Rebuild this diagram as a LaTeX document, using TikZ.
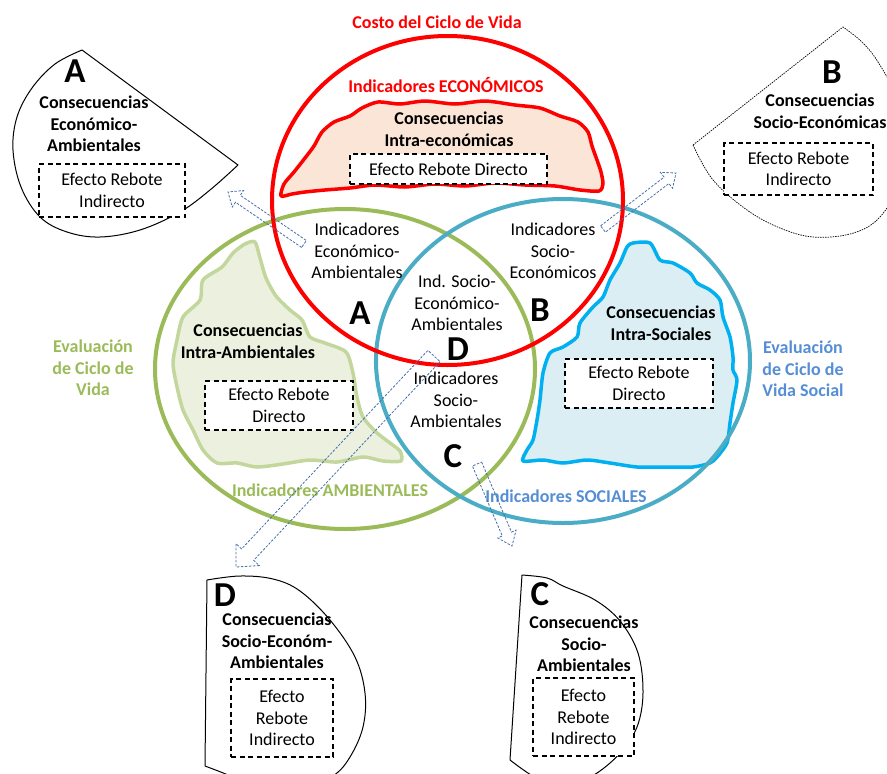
\documentclass[tikz,border=0pt]{standalone}
\usepackage{fontspec}
\setmainfont{Carlito}
\usetikzlibrary{calc}
\definecolor{vred}{RGB}{255,0,0}
\definecolor{vgreen}{RGB}{155,187,89}
\definecolor{vblue}{RGB}{75,172,198}
\definecolor{bredfill}{RGB}{251,229,214}
\definecolor{bgreenfill}{RGB}{235,241,222}
\definecolor{bgreenline}{RGB}{195,214,155}
\definecolor{bbluefill}{RGB}{218,238,243}
\definecolor{bblueline}{RGB}{0,176,240}
\definecolor{tgreen}{RGB}{155,187,89}
\definecolor{tblue}{RGB}{85,142,213}
\definecolor{arrowc}{RGB}{68,110,170}
\newcommand\fbody{\fontsize{18pt}{21.5pt}\selectfont}
\newcommand\fbig{\fontsize{35pt}{36pt}\selectfont\bfseries}
\newcommand\blockarrow[5]{%
  \coordinate (#1-#2-h) at ($(#2)!#5!(#1)$);
  \draw[barrow] ($(#1)!#3!90:(#2)$) -- ($(#1-#2-h)!#3!90:(#2)$) -- ($(#1-#2-h)!#4!90:(#2)$) -- (#2) -- ($(#1-#2-h)!#4!-90:(#2)$) -- ($(#1-#2-h)!#3!-90:(#2)$) -- ($(#1)!#3!-90:(#2)$) -- cycle;}
\tikzset{
  venn/.style={line width=4pt},
  blob/.style={line width=3.5pt, line join=round},
  dbox/.style={draw=black, fill=white, line width=1.4pt, dash pattern=on 5pt off 3.5pt},
  outshape/.style={draw=black, line width=1pt, line join=round},
  dotshape/.style={draw=black, line width=0.7pt, dash pattern=on 1.5pt off 1pt},
  barrow/.style={draw=arrowc, line width=0.8pt, dash pattern=on 2.5pt off 1.5pt, line join=miter},
  bold/.style={font=\fbody\bfseries},
  ttl/.style={font=\fbody\bfseries},
  big/.style={font=\fbig},
}
\begin{document}
\begin{tikzpicture}[x=1pt,y=-1pt, every node/.style={inner sep=0pt, align=center, font=\fbody}]
\useasboundingbox (0,0) rectangle (887,774);
\begin{scope}
\clip (0,0) rectangle (887,774);
% blobs
\draw[blob, draw=vred, fill=bredfill] plot[smooth cycle, tension=0.45] coordinates {(281,196) (284,184) (294,172) (305,158) (314,146) (322,132) (334,122) (350,116) (362,108) (378,102) (400,104) (425,101) (455,104) (485,101) (515,105) (540,108) (560,116) (578,122) (588,132) (592,146) (597,160) (601,172) (603,184) (599,191) (580,190) (555,186) (525,185) (495,183) (465,186) (435,184) (405,187) (375,185) (350,188) (325,190) (305,192) (292,194)};
\draw[blob, draw=bgreenline, fill=bgreenfill] plot[smooth cycle, tension=0.45] coordinates {(255,242) (260,258) (266,278) (276,296) (290,310) (302,320) (310,337) (325,343) (346,352) (353,373) (357,397) (363,417) (376,432) (390,443) (400,451) (401,461) (383,461) (363,457) (337,462) (310,460) (283,464) (257,467) (237,463) (217,463) (203,450) (193,430) (183,410) (177,387) (173,363) (177,340) (183,317) (200,300) (203,280) (222,267) (233,253) (245,244)};
\draw[blob, draw=bblueline, fill=bbluefill] plot[smooth cycle, tension=0.45] coordinates {(633,243) (650,243) (660,260) (673,263) (690,273) (697,283) (710,290) (720,300) (723,317) (730,337) (733,357) (733,370) (737,380) (733,403) (730,423) (727,443) (717,457) (710,463) (693,467) (663,467) (637,467) (610,463) (587,460) (563,463) (543,460) (523,461) (527,450) (533,440) (537,420) (540,400) (543,373) (550,353) (563,347) (577,337) (580,323) (593,307) (603,297) (610,280) (620,263) (627,247)};
% Venn ellipses
\draw[venn, draw=vgreen] (345,369) ellipse [x radius=190pt, y radius=160pt];
\draw[venn, draw=vblue] (563,361) ellipse [x radius=187pt, y radius=162pt];
\draw[venn, draw=vred] (447.5,200.5) ellipse [x radius=175.5pt, y radius=164.5pt];
% outer shapes
\draw[outshape] plot[smooth, tension=0.6] coordinates {(238,165) (210,190) (180,212) (140,230) (100,237) (67,232) (40,217) (21,187) (13,150) (17,117) (32,88) (55,64) (82,50)} -- cycle;
\draw[dotshape] plot[smooth, tension=0.6] coordinates {(693,145) (713,180) (747,210) (780,228) (813,237) (850,234) (877,220) (896,190) (904,145) (896,97) (878,62) (862,42) (843,27)} -- cycle;
\draw[outshape] plot[smooth, tension=0.6] coordinates {(207,580) (240,576) (273,579) (300,591) (330,620) (355,657) (365,693) (363,727) (350,757) (333,776) (300,792) (260,790) (233,777) (205,766)} -- cycle;
\draw[outshape] plot[smooth, tension=0.6] coordinates {(522,575) (547,578) (563,586) (595,600) (620,621) (638,653) (643,693) (637,727) (620,753) (597,773) (570,786) (540,780) (510,760)} -- cycle;
\end{scope}
% titles
\node[ttl, text=vred] (tcost) at (437,22) {Costo del Ciclo de Vida};
\node[ttl, text=vred] (teco) at (446,85) {Indicadores ECONÓMICOS};
\node[ttl, text=tgreen] (tamb) at (330,490) {Indicadores AMBIENTALES};
\node[ttl, text=tblue] (tsoc) at (566,496) {Indicadores SOCIALES};
\node[ttl, text=tgreen] (tlca) at (93,368) {Evaluación\\de Ciclo de\\Vida};
\node[ttl, text=tblue] (tslca) at (803,369) {Evaluación\\de Ciclo de\\Vida Social};
% Venn inner labels
\node (iEA) at (357,251) {Indicadores\\Económico-\\Ambientales};
\node (iSE) at (553,251) {Indicadores\\Socio-\\Económicos};
\node (iSEA) at (457,303) {Ind. Socio-\\Económico-\\Ambientales};
\node (iSA) at (456,400) {Indicadores\\Socio-\\Ambientales};
\node[big] (vA) at (360,313) {A};
\node[big] (vB) at (540,310) {B};
\node[big] (vD) at (458,349) {D};
\node[big] (vC) at (453,456) {C};
% blob texts
\node[bold] (cEco) at (449,129) {Consecuencias\\Intra-económicas};
\node[dbox, minimum width=197pt, minimum height=30pt] (rEco) at (448.5,169) {Efecto Rebote Directo};
\node[bold] (cAmb) at (248,341) {Consecuencias\\Intra-Ambientales};
\node[dbox, minimum width=148pt, minimum height=49pt] (rAmb) at (279,405.5) {Efecto Rebote\\Directo};
\node[bold] (cSoc) at (661,323) {Consecuencias\\Intra-Sociales};
\node[dbox, minimum width=148pt, minimum height=49pt] (rSoc) at (639,383.5) {Efecto Rebote\\Directo};
% outer texts
\node[big] (oA) at (75,71) {A};
\node[bold] (cA) at (94,124) {Consecuencias\\Económico-\\Ambientales};
\node[dbox, minimum width=146pt, minimum height=53pt] (rA) at (112,190.5) {Efecto Rebote\\Indirecto};
\node[big] (oB) at (832,72) {B};
\node[bold] (cB) at (820,111) {Consecuencias\\Socio-Económicas};
\node[dbox, minimum width=149pt, minimum height=52pt] (rB) at (798.5,169) {Efecto Rebote\\Indirecto};
\node[big] (oD) at (225,595) {D};
\node[bold] (cD) at (277,641) {Consecuencias\\Socio-Económ-\\Ambientales};
\node[dbox, minimum width=102pt, minimum height=78pt] (rD) at (282,718) {Efecto\\Rebote\\Indirecto};
\node[big] (oC) at (540,594) {C};
\node[bold] (cC) at (584,644) {Consecuencias\\Socio-\\Ambientales};
\node[dbox, minimum width=101pt, minimum height=78pt] (rC) at (583.5,717) {Efecto\\Rebote\\Indirecto};
% block arrows
\coordinate (aAt) at (304,244); \coordinate (aAp) at (228,192);
\blockarrow{aAt}{aAp}{4.2pt}{10pt}{12pt}
\coordinate (aBt) at (603,229); \coordinate (aBp) at (676,173);
\blockarrow{aBt}{aBp}{4pt}{10pt}{12pt}
\coordinate (aDt) at (434,356); \coordinate (aDp) at (236,567);
\blockarrow{aDt}{aDp}{8.3pt}{16pt}{17pt}
\coordinate (aCt) at (477,464); \coordinate (aCp) at (512,546);
\blockarrow{aCt}{aCp}{5pt}{10pt}{13pt}
\end{tikzpicture}
\end{document}
